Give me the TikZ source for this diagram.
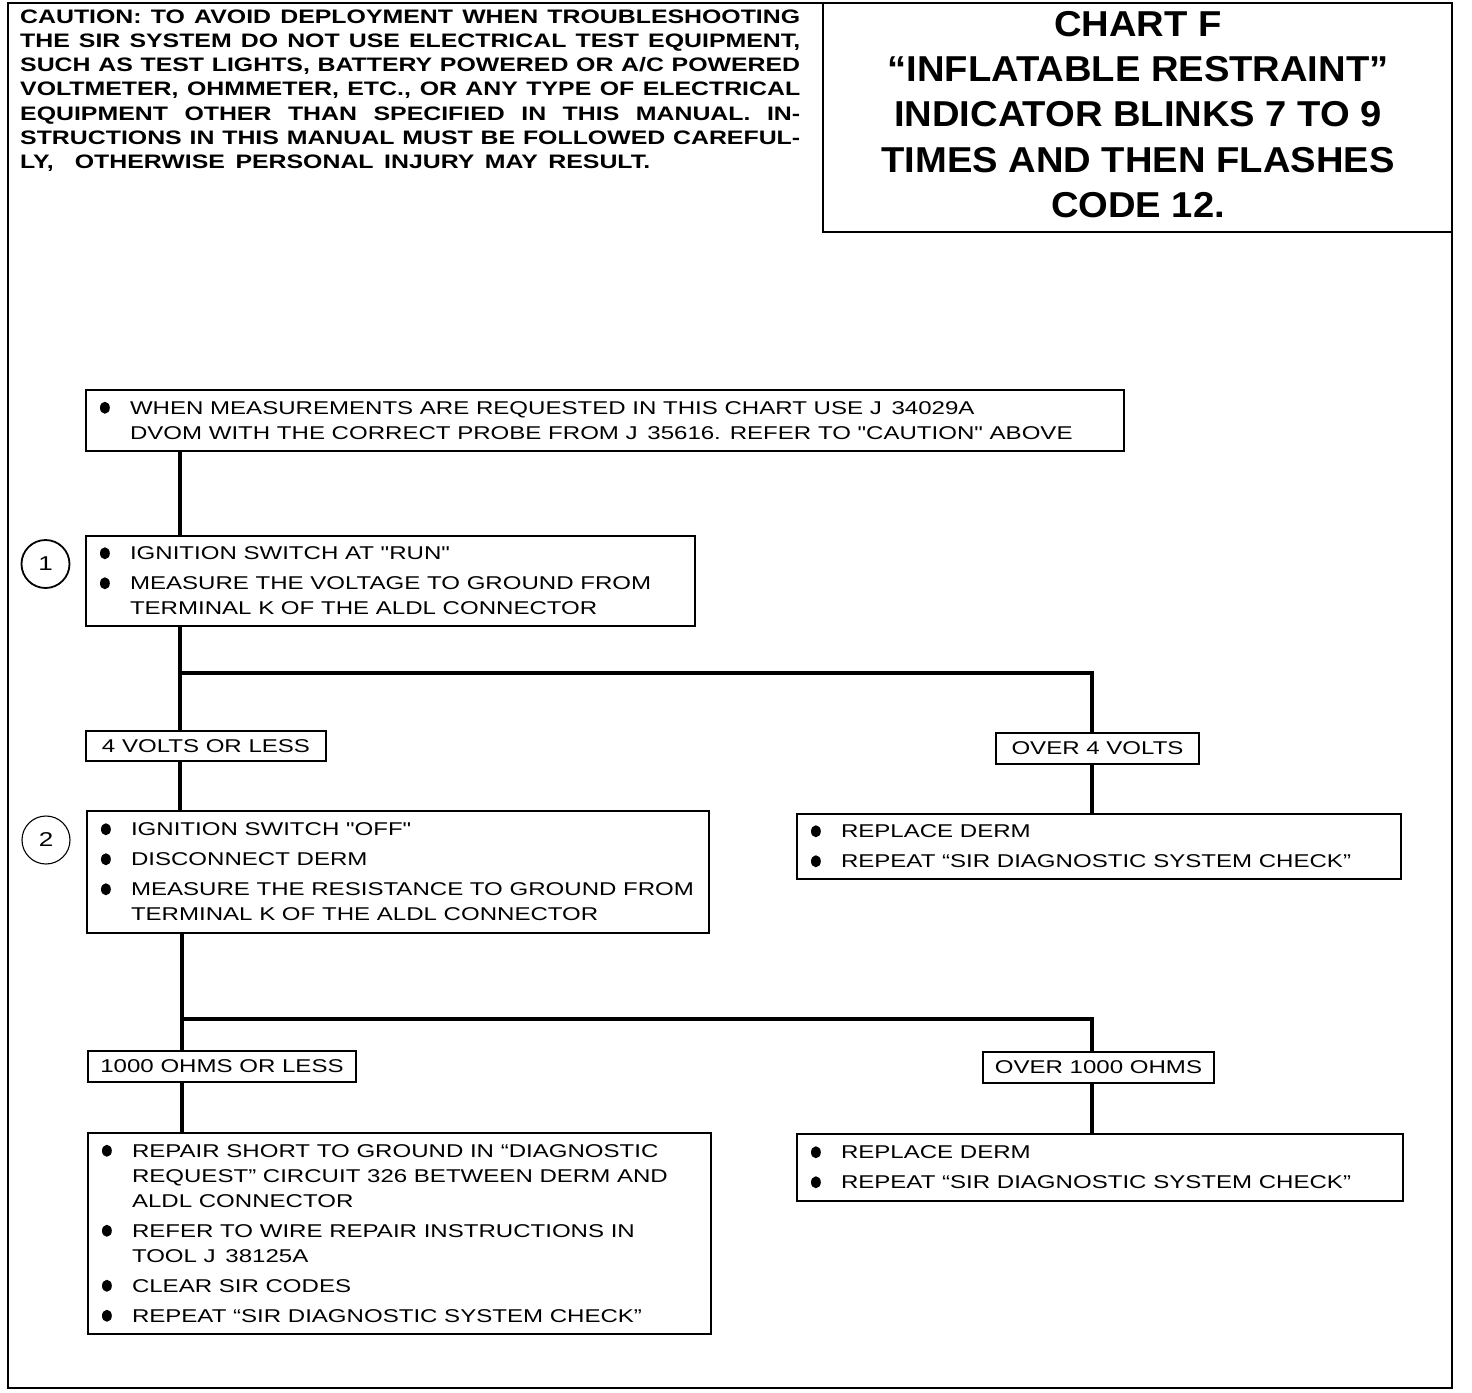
\documentclass[tikz,border=0pt]{standalone}
\usepackage{fontspec}
\setmainfont{Liberation Sans}
\newfontfamily\bodyf[FakeStretch=1.30]{Liberation Sans}
\newfontfamily\cautf[FakeStretch=1.275]{Liberation Sans}
\newfontfamily\titlef[FakeStretch=1.06]{Liberation Sans}
\newcommand{\bul}{\tikz[baseline=-6.6pt]\fill[black] (0,0) ellipse [x radius=4.9pt, y radius=6pt];}
\newcommand{\bw}{600pt}
% bullet line and continuation line, each padded to the box width \bw
\newcommand{\bi}[1]{\makebox[\bw][l]{\hspace*{14pt}\makebox[30pt][l]{\bul}#1}}
\newcommand{\ci}[1]{\makebox[\bw][l]{\hspace*{44pt}#1}}
\tikzset{
  frame/.style={line width=2.2pt},
  stepbox/.style={draw, line width=2pt, rectangle, inner sep=0pt, align=left,
    font={\bodyf\fontsize{18.5}{25}\selectfont}},
  lab/.style={draw, line width=2pt, rectangle, inner sep=0pt,
    font={\bodyf\fontsize{18.5}{25}\selectfont}},
  num/.style={draw, circle, line width=1.8pt, minimum size=48pt, inner sep=0pt,
    font={\bodyf\fontsize{20}{22}\selectfont}},
  conn/.style={line width=3.2pt}
}
\begin{document}
\begin{tikzpicture}[x=1pt,y=-1pt]
\useasboundingbox (0,0) rectangle (1472,1392);
% outer frame and title box
\draw[frame] (8,3) rectangle (1452,1388);
\draw[frame] (823,3) rectangle (1452,232);
\node[anchor=north west, inner sep=0pt, align=left,
  font={\cautf\bfseries\fontsize{19.5}{24.2}\selectfont}] (caution) at (20,9.5)
  {\makebox[780pt][s]{CAUTION: TO AVOID DEPLOYMENT WHEN TROUBLESHOOTING}\\
   \makebox[780pt][s]{THE SIR SYSTEM DO NOT USE ELECTRICAL TEST EQUIPMENT,}\\
   \makebox[780pt][s]{SUCH AS TEST LIGHTS, BATTERY POWERED OR A/C POWERED}\\
   \makebox[780pt][s]{VOLTMETER, OHMMETER, ETC., OR ANY TYPE OF ELECTRICAL}\\
   \makebox[780pt][s]{EQUIPMENT OTHER THAN SPECIFIED IN THIS MANUAL. IN-}\\
   \makebox[780pt][s]{STRUCTIONS IN THIS MANUAL MUST BE FOLLOWED CAREFUL-}\\
   \makebox[630pt][s]{LY,\ \ OTHERWISE PERSONAL INJURY MAY RESULT.}};
\node[inner sep=0pt, align=center,
  font={\titlef\bfseries\fontsize{36}{45.25}\selectfont}] (title) at (1138,114.5)
  {CHART F\\“INFLATABLE RESTRAINT”\\INDICATOR BLINKS 7 TO 9\\TIMES AND THEN FLASHES\\CODE 12.};

% boxes
\node[stepbox, minimum width=1038pt, minimum height=61pt, execute at begin node={\renewcommand{\bw}{1038pt}}] (a) at (605,420.5)
  {\bi{WHEN MEASUREMENTS ARE REQUESTED IN THIS CHART USE J\hspace{3pt} 34029A}\\
   \ci{DVOM WITH THE CORRECT PROBE FROM J\hspace{3pt} 35616. REFER TO "CAUTION" ABOVE}};
\node[stepbox, minimum width=609pt, minimum height=90pt, execute at begin node={\renewcommand{\bw}{609pt}}] (s1) at (390.5,581)
  {\bi{IGNITION SWITCH AT "RUN"}\\[5pt]
   \bi{MEASURE THE VOLTAGE TO GROUND FROM}\\
   \ci{TERMINAL K OF THE ALDL CONNECTOR}};
\node[num] (c1) at (45.5,564) {1};
\node[lab, minimum width=240pt, minimum height=30pt] (l4v) at (206,746) {4 VOLTS OR LESS};
\node[lab, minimum width=203pt, minimum height=31pt] (o4v) at (1097.5,748.5) {OVER 4 VOLTS};
\node[stepbox, minimum width=622pt, minimum height=122pt, execute at begin node={\renewcommand{\bw}{622pt}}] (s2) at (398,872)
  {\bi{IGNITION SWITCH "OFF"}\\[5pt]
   \bi{DISCONNECT DERM}\\[5pt]
   \bi{MEASURE THE RESISTANCE TO GROUND FROM}\\
   \ci{TERMINAL K OF THE ALDL CONNECTOR}};
\node[num, line width=1.1pt] (c2) at (46,840) {2};
\node[stepbox, minimum width=604pt, minimum height=65pt, execute at begin node={\renewcommand{\bw}{604pt}}] (r1) at (1099,846.5)
  {\bi{REPLACE DERM}\\[5pt]
   \bi{REPEAT “SIR DIAGNOSTIC SYSTEM CHECK”}};
\node[lab, minimum width=268pt, minimum height=31pt] (l1k) at (222,1066.5) {1000 OHMS OR LESS};
\node[lab, minimum width=231pt, minimum height=31pt] (o1k) at (1098.5,1067.5) {OVER 1000 OHMS};
\node[stepbox, minimum width=623pt, minimum height=201pt, execute at begin node={\renewcommand{\bw}{623pt}}] (l3) at (399.5,1233.5)
  {\bi{REPAIR SHORT TO GROUND IN “DIAGNOSTIC}\\
   \ci{REQUEST” CIRCUIT 326 BETWEEN DERM AND}\\
   \ci{ALDL CONNECTOR}\\[5pt]
   \bi{REFER TO WIRE REPAIR INSTRUCTIONS IN}\\
   \ci{TOOL J\hspace{3pt} 38125A}\\[5pt]
   \bi{CLEAR SIR CODES}\\[5pt]
   \bi{REPEAT “SIR DIAGNOSTIC SYSTEM CHECK”}};
\node[stepbox, minimum width=606pt, minimum height=67pt, execute at begin node={\renewcommand{\bw}{606pt}}] (r3) at (1100,1167.5)
  {\bi{REPLACE DERM}\\[5pt]
   \bi{REPEAT “SIR DIAGNOSTIC SYSTEM CHECK”}};

% junctions
\coordinate (j1) at (180,673);
\coordinate (j1r) at (1092,673);
\coordinate (j2) at (182,1019);
\coordinate (j2r) at (1092,1019);

% connectors
\draw[conn] (a.south -| j1) -- (s1.north -| j1);
\draw[conn] (s1.south -| j1) -- (j1) -- (l4v.north -| j1);
\draw[conn] (j1) -- (j1r) -- (o4v.north -| j1r);
\draw[conn] (l4v.south -| j1) -- (s2.north -| j1);
\draw[conn] (o4v.south -| j1r) -- (r1.north -| j1r);
\draw[conn] (s2.south -| j2) -- (j2) -- (l1k.north -| j2);
\draw[conn] (j2) -- (j2r) -- (o1k.north -| j2r);
\draw[conn] (l1k.south -| j2) -- (l3.north -| j2);
\draw[conn] (o1k.south -| j2r) -- (r3.north -| j2r);
\end{tikzpicture}
\end{document}
